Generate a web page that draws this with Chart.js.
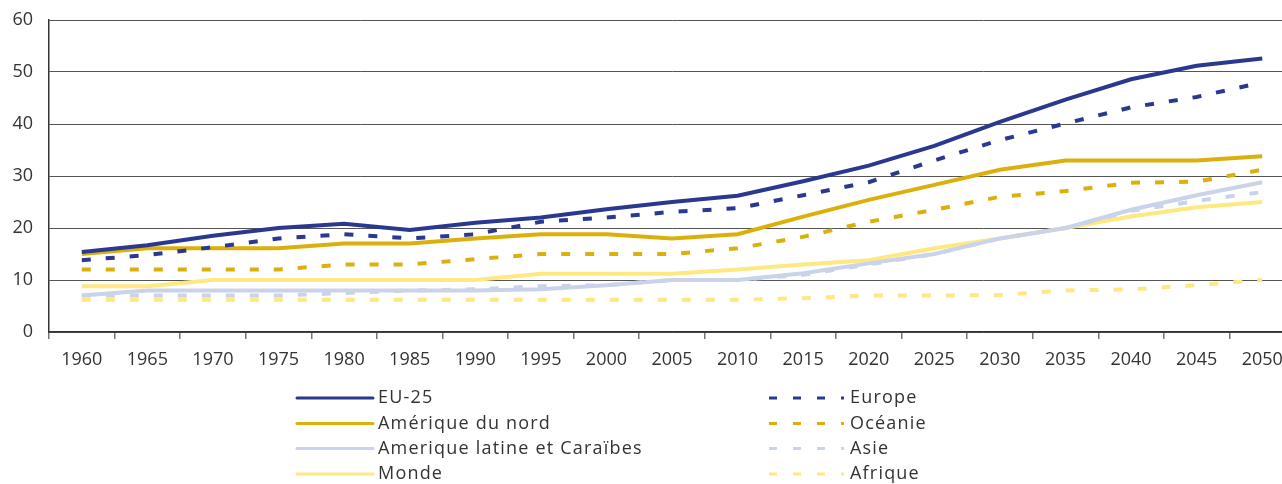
<!DOCTYPE html>
<html>
<head>
<meta charset="utf-8">
<script src="https://cdn.jsdelivr.net/npm/chart.js@4"></script>
<style>
  html, body { margin: 0; padding: 0; background: #fff; overflow: hidden; width: 1282px; height: 484px; }
  canvas { display: block; }
</style>
</head>
<body>
<canvas id="ageChart" width="1295" height="484"></canvas>
<script>
var years = ['1960', '1965', '1970', '1975', '1980', '1985', '1990', '1995', '2000', '2005',
             '2010', '2015', '2020', '2025', '2030', '2035', '2040', '2045', '2050'];
var yTicks = [0, 10, 20, 30, 40, 50, 60];

var eu25     = [15.4, 16.7, 18.5, 20, 20.8, 19.6, 21, 22, 23.6, 25, 26.2, 29, 32, 35.8, 40.4, 44.7, 48.6, 51.2, 52.6];
var europe   = [13.8, 14.8, 16.3, 18, 18.8, 18, 18.8, 21.2, 22, 23.1, 23.8, 26.3, 28.8, 33, 36.9, 40.1, 43.2, 45.2, 48];
var amNord   = [15, 16.1, 16.1, 16.1, 17, 17, 18, 18.8, 18.8, 18, 18.8, 22.2, 25.4, 28.3, 31.2, 33, 33, 33, 33.8];
var oceanie  = [12, 12, 12, 12, 13, 13, 14, 15, 15, 15, 16.1, 18.3, 21.2, 23.5, 26, 27.1, 28.7, 28.9, 31.2];
var amLatine = [7, 8, 8, 8, 8, 8, 8, 8.2, 9, 10, 10, 11.3, 13.2, 15, 18, 20, 23.5, 26.3, 28.8];
var asie     = [7, 7, 7, 7, 7.5, 8, 8.2, 8.8, 9, 10, 10, 11, 13, 15, 18, 20, 23.3, 25.2, 26.9];
var monde    = [8.8, 8.8, 10, 10, 10, 10, 10, 11.2, 11.2, 11.2, 12, 13, 13.8, 16.1, 18, 20, 22.2, 24, 25];
var afrique  = [6.2, 6.2, 6.2, 6.2, 6.2, 6.2, 6.2, 6.2, 6.2, 6.2, 6.2, 6.5, 7, 7, 7.1, 8, 8.2, 9, 10];

var navy = '#2b3890';
var gold = '#dcb00c';
var pale = '#c9d3ea';
var yellow = '#fde881';

function line(label, data, color, dashed) {
  return {
    label: label,
    data: data,
    borderColor: color,
    backgroundColor: color,
    borderWidth: 4,
    borderDash: dashed ? [9, 15] : [],
    borderCapStyle: 'butt',
    pointRadius: 0,
    tension: 0,
    fill: false
  };
}

// legend drawn by hand: two columns, solid lines left, dashed right
var legendPlugin = {
  id: 'twoColLegend',
  afterDraw: function (chart) {
    var ctx = chart.ctx;
    var rows = [398, 423.5, 448.5, 474];
    var cols = [
      { x0: 297, x1: 373, tx: 378, items: [0, 2, 4, 6] },
      { x0: 769, x1: 844, tx: 850, items: [1, 3, 5, 7] }
    ];
    ctx.save();
    ctx.font = '18px "Open Sans"';
    ctx.letterSpacing = '1.2px';
    ctx.textBaseline = 'middle';
    cols.forEach(function (col) {
      col.items.forEach(function (idx, r) {
        var ds = chart.data.datasets[idx];
        ctx.beginPath();
        ctx.strokeStyle = ds.borderColor;
        ctx.lineWidth = 3;
        ctx.lineCap = ds.borderDash.length ? 'butt' : 'round';
        ctx.setLineDash(ds.borderDash.length ? [8, 16] : []);
        ctx.moveTo(col.x0, rows[r]);
        ctx.lineTo(col.x1, rows[r]);
        ctx.stroke();
        ctx.setLineDash([]);
        ctx.fillStyle = '#333';
        ctx.fillText(ds.label, col.tx, rows[r]);
      });
    });
    ctx.restore();
  }
};

var ctx = document.getElementById('ageChart');
var chart = new Chart(ctx, {
  type: 'line',
  data: {
    labels: years,
    datasets: [
      line('EU-25', eu25, navy, false),
      line('Europe', europe, navy, true),
      line('Amérique du nord', amNord, gold, false),
      line('Océanie', oceanie, gold, true),
      line('Amerique latine et Caraïbes', amLatine, pale, false),
      line('Asie', asie, pale, true),
      line('Monde', monde, yellow, false),
      line('Afrique', afrique, yellow, true)
    ]
  },
  options: {
    responsive: false,
    animation: false,
    layout: { padding: { top: 20, right: 0, left: 0, bottom: 0 } },
    plugins: {
      legend: { display: false },
      tooltip: { enabled: false }
    },
    scales: {
      x: {
        offset: true,
        grid: { offset: true, drawOnChartArea: false, drawTicks: true, tickLength: 7, color: '#777', lineWidth: 1.5 },
        border: { color: '#333', width: 1.5 },
        ticks: { color: '#333', font: { family: 'Open Sans', size: 18 }, padding: 10, maxRotation: 0, autoSkip: false },
        afterFit: function (scale) { scale.height = 152; }
      },
      y: {
        min: 0,
        max: 60,
        afterBuildTicks: function (scale) {
          scale.ticks = yTicks.map(function (v) { return { value: v }; });
        },
        // invisible tick marks give the label gap without adding top padding
        grid: { color: '#555', lineWidth: 1, drawTicks: true, tickLength: 16, tickColor: 'rgba(0,0,0,0)' },
        border: { color: '#333', width: 1.5 },
        ticks: { color: '#333', font: { family: 'Open Sans', size: 18 }, padding: 0 },
        afterFit: function (scale) { scale.width = 49; }
      }
    }
  },
  plugins: [legendPlugin]
});
</script>
</body>
</html>
